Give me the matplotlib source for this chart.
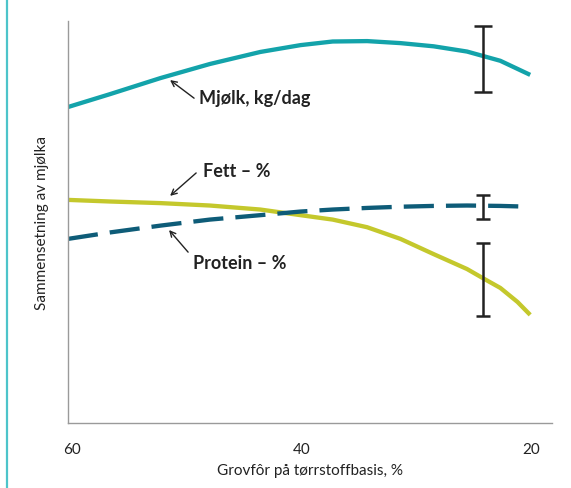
import matplotlib
matplotlib.use("Agg")
import matplotlib.pyplot as plt
from matplotlib.lines import Line2D

plt.rcParams['font.family'] = ['Lato', 'DejaVu Sans']

# Data (arbitrary relative units on y)
x_vals = [60.35, 56.7, 52.3, 48.0, 43.6, 40.1, 37.3, 34.3, 31.4, 28.5, 25.6, 22.7, 20.1]
mjolk = [78.6, 81.8, 85.8, 89.3, 92.3, 94.0, 94.9, 95.0, 94.5, 93.7, 92.4, 90.1, 86.6]
protein = [45.8, 47.4, 49.1, 50.6, 51.7, 52.6, 53.1, 53.5, 53.8, 54.0, 54.1, 54.0, 53.8]
fett_x = [60.35, 56.7, 52.3, 48.0, 43.6, 40.1, 37.3, 34.3, 31.4, 28.5, 25.6, 24.2, 22.7, 21.2, 20.1]
fett = [55.5, 55.1, 54.7, 54.1, 53.1, 51.7, 50.6, 48.7, 45.8, 42.0, 38.3, 36.0, 33.6, 30.1, 26.9]

err_x = 24.22
mjolk_err = (90.55, 8.25)
protein_err = (53.7, 3.0)
fett_err = (35.6, 9.1)

x_ticks = [60, 40, 20]
x_ticklabels = ["60", "40", "20"]

teal = "#13a3aa"
dark = "#0e5c78"
yellow = "#c4c82c"

fig = plt.figure(figsize=(5.71, 4.89), dpi=100)
ax = fig.add_axes([68/571, 1-424/489, (552-68)/571, (424-22)/489])

lw = 3.1
ax.plot(x_vals, mjolk, color=teal, lw=lw, solid_capstyle='butt', solid_joinstyle='round')
ax.plot(fett_x, fett, color=yellow, lw=lw, solid_capstyle='butt', solid_joinstyle='round')
ax.plot(x_vals, protein, color=dark, lw=lw, dashes=(7, 2.8))

ecol = "#222222"
ax.errorbar([err_x], [mjolk_err[0]], yerr=[mjolk_err[1]], fmt='none', ecolor=ecol, elinewidth=1.8, capsize=6.5, capthick=1.8, zorder=5)
ax.errorbar([err_x], [protein_err[0]], yerr=[protein_err[1]], fmt='none', ecolor=ecol, elinewidth=1.8, capsize=5, capthick=1.8, zorder=5)
ax.errorbar([err_x], [fett_err[0]], yerr=[fett_err[1]], fmt='none', ecolor=ecol, elinewidth=1.8, capsize=5, capthick=1.8, zorder=5)

ax.set_xlim(60.35, 18.2)
ax.set_ylim(0, 100)
ax.set_xticks(x_ticks)
ax.set_xticklabels(x_ticklabels, fontsize=11, color="#222222")
ax.set_yticks([])
ax.tick_params(axis='x', length=0, pad=14)
for s in ['top', 'right']:
    ax.spines[s].set_visible(False)
for s in ['left', 'bottom']:
    ax.spines[s].set_color("#9a9a9a")
    ax.spines[s].set_linewidth(1.0)

ax.set_xlabel("Grovfôr på tørrstoffbasis, %", fontsize=11, color="#222222", labelpad=5)
ax.set_ylabel("Sammensetning av mjølka", fontsize=11, color="#222222", labelpad=14)

arrowprops = dict(arrowstyle='->', color='#222222', lw=1.0, shrinkA=0, shrinkB=0)
tkw = dict(fontsize=13, fontweight='bold', color='#222222', va='center', ha='left')
ax.annotate("", xy=(51.46, 85.3), xytext=(49.37, 80.8), arrowprops=arrowprops)
ax.text(48.93, 80.9, "Mjølk, kg/dag", **tkw)
ax.annotate("", xy=(51.46, 56.5), xytext=(49.19, 62.2), arrowprops=arrowprops)
ax.text(48.58, 62.7, "Fett – %", **tkw)
ax.annotate("", xy=(51.55, 48.0), xytext=(49.89, 42.5), arrowprops=arrowprops)
ax.text(49.45, 40.0, "Protein – %", **tkw)

fig.add_artist(Line2D([7/571, 7/571], [0, 1], transform=fig.transFigure, color="#4dc4ca", lw=1.6))

fig.savefig("out.png", dpi=100)
